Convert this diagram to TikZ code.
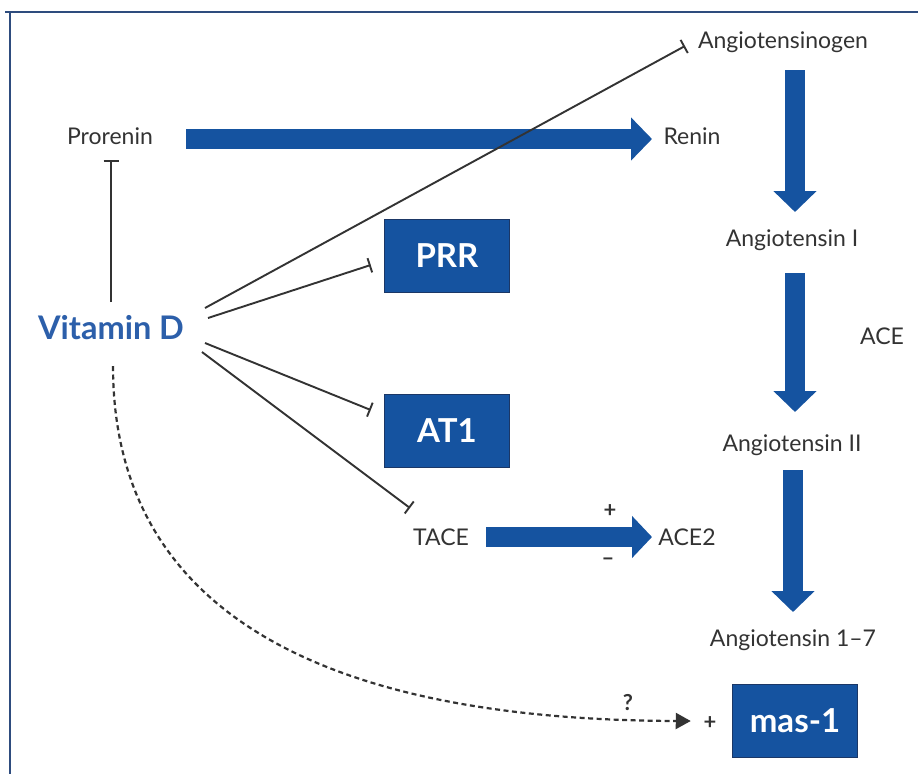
\documentclass[tikz,border=0pt]{standalone}
\usepackage{fontspec}
\setmainfont{Lato}
\usetikzlibrary{arrows.meta,calc}
\definecolor{txt}{HTML}{333333}
\definecolor{bblue}{HTML}{1553A0}
\definecolor{bedge}{HTML}{1B3766}
\definecolor{vblue}{HTML}{2C5FAA}
\definecolor{framec}{HTML}{2E4C7E}
\begin{document}
\begin{tikzpicture}[x=1pt,y=-1pt,
  lbl/.style={inner sep=0pt, font=\fontsize{23}{26}\selectfont, text=txt},
  sm/.style={inner sep=0pt, font=\fontsize{22}{24}\selectfont\bfseries, text=txt},
  box/.style={draw=bedge, line width=1.5pt, fill=bblue, minimum width=125pt, minimum height=73pt, inner sep=0pt, text=white, font=\fontsize{33}{36}\selectfont\bfseries},
  bigarrow/.style={draw=bblue, line width=20pt, -{Triangle[length=21pt,width=42pt]}},
  inh/.style={draw=txt, line width=1.9pt, -{Bar[width=15pt,line width=1.9pt]}},
  dashline/.style={draw=txt, line width=2.2pt, dash pattern=on 5pt off 3.5pt, -{Triangle[length=15pt,width=16pt]}}
]
\path[use as bounding box, fill=white] (0,0) rectangle (918,774);
\draw[framec, line width=2.5pt] (5,12) -- (918,12);
\draw[framec, line width=2.5pt] (10,12) -- (10,774);

\node[lbl] (agen) at (783,42) {Angiotensinogen};
\node[lbl] (prorenin) at (110,136) {Prorenin};
\node[lbl] (renin) at (692,136) {Renin};
\node[lbl] (ang1) at (792,240) {Angiotensin I};
\node[lbl] (ace) at (882,336) {ACE};
\node[lbl] (ang2) at (792,445) {Angiotensin II};
\node[lbl] (ang17) at (793,640) {Angiotensin 1–7};
\node[lbl] (tace) at (441,537) {TACE};
\node[lbl] (ace2) at (687,537) {ACE2};
\node[inner sep=0pt, font=\fontsize{32.5}{36}\selectfont\bfseries, text=vblue] (vitd) at (111,328) {Vitamin D};
\node[box] (prr) at (447,256) {PRR};
\node[box] (at1) at (447,431) {AT1};
\node[box] (mas) at (795,721) {mas-1};
\node[sm] (plusa) at (610,511) {+};
\node[sm] (minus) at (608,562) {–};
\node[sm] (quest) at (628,703) {?};
\node[sm] (plusb) at (710,723) {+};

% big blue arrows
\draw[bigarrow] ($(prorenin)+(76,3)$) -- ($(renin)+(-40,3)$);
\draw[bigarrow] ($(agen)+(12,28)$) -- ($(ang1)+(3,-28)$);
\draw[bigarrow] ($(ang1)+(3,33)$) -- ($(ang2)+(3,-33)$);
\draw[bigarrow] ($(ang2)+(1,25)$) -- ($(ang17)+(0,-28)$);
\draw[draw=bblue, line width=20pt, -{Triangle[length=20pt,width=41pt]}] ($(tace)+(45,0)$) -- ($(ace2)+(-35,0)$);

% inhibition lines
\draw[inh] ($(vitd)+(0,-26)$) -- ($(prorenin)+(1,24)$);
\draw[inh] ($(vitd)+(94,-20)$) -- ($(agen)+(-98,4)$);
\draw[inh] ($(vitd)+(97,-10)$) -- ($(prr.west)+(-13,9)$);
\draw[inh] ($(vitd)+(94,15)$) -- ($(at1.west)+(-13,-21)$);
\draw[inh] ($(vitd)+(91,24)$) -- ($(tace)+(-31,-29)$);

% dashed
\draw[dashline] ($(vitd)+(2,38)$) .. controls (113,610) and (320,720) .. ($(mas.west)+(-41,0)$);
\end{tikzpicture}
\end{document}
